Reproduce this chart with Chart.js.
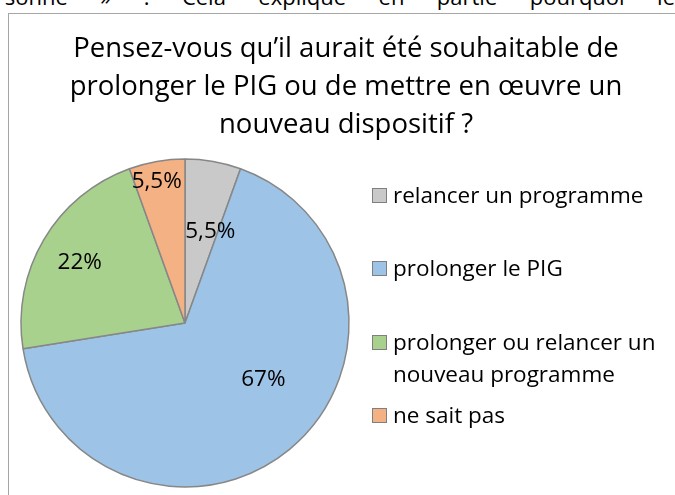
<!DOCTYPE html>
<html lang="fr">
<head>
<meta charset="utf-8">
<script src="https://cdn.jsdelivr.net/npm/chart.js@4.4.1/dist/chart.umd.min.js"></script>
<style>
  html, body { margin: 0; padding: 0; background: #fff; overflow: hidden; }
  body { width: 675px; height: 495px; position: relative; font-family: 'Open Sans', sans-serif; color: #000; }
  #prevText { position: absolute; left: -30px; top: -19px; width: 705px; font-size: 22px; line-height: 30px;
    text-align: justify; text-align-last: justify; white-space: nowrap; }
  #frame { position: absolute; left: 8px; top: 13px; width: 674px; height: 490px; border: 1px solid #a6a6a6; }
  #pie { position: absolute; left: 0; top: 0; }
  #title { position: absolute; left: 0; top: 14px; width: 674px; text-align: center; font-size: 27.5px;
    line-height: 38px; white-space: pre-line; }
  #legend { position: absolute; left: 363px; top: 0; width: 305px; }
  .lg-item { position: absolute; left: 0; font-size: 22.5px; line-height: 32px; padding-left: 21px; width: 284px; }
  .lg-box { position: absolute; left: 0; top: 9px; width: 13px; height: 13px; border: 1px solid #7f7f7f; }
</style>
</head>
<body>
<div id="prevText">personne » . Cela explique en partie pourquoi le</div>
<div id="frame">
  <canvas id="pie" width="674" height="481"></canvas>
  <div id="title"></div>
  <div id="legend"></div>
</div>
<script>
// Réponses (en %)
const titleLines = ['Pensez-vous qu’il aurait été souhaitable de', 'prolonger le PIG ou de mettre en œuvre un', 'nouveau dispositif ?'];
const categories = ['relancer un programme', 'prolonger le PIG', 'prolonger ou relancer un nouveau programme', 'ne sait pas'];
const shares = [5.5, 67, 22, 5.5];
const sliceColors = ['#c9c9c9', '#9dc3e6', '#a9d18e', '#f4b183'];

// where each percentage sits inside its slice (fraction of the slice angle, fraction of radius)
const labelAngleFrac = [0.78, 0.44, 0.49, 0.43];
const labelRadiusFrac = [0.58, 0.59, 0.74, 0.88];

// legend rows: first-line centre of the first row and spacing (px, inside the frame)
const legendTop = 181;
const legendStep = 73.3;

document.getElementById('title').textContent = titleLines.join('\n');

const legendEl = document.getElementById('legend');
categories.forEach((c, i) => {
    const item = document.createElement('div');
    item.className = 'lg-item';
    item.style.top = (legendTop + i * legendStep - 16) + 'px';
    item.innerHTML = `<span class="lg-box" style="background:${sliceColors[i]}"></span>${c}`;
    legendEl.appendChild(item);
});

const fmt = v => String(v).replace('.', ',') + '%';

const sliceLabels = {
    id: 'sliceLabels',
    afterDatasetsDraw(chart) {
        const g = chart.ctx;
        const meta = chart.getDatasetMeta(0);
        g.save();
        g.font = '22.5px "Open Sans"';
        g.fillStyle = '#000';
        g.textAlign = 'center';
        g.textBaseline = 'middle';
        meta.data.forEach((arc, i) => {
            const p = arc.getProps(['x', 'y', 'startAngle', 'endAngle', 'outerRadius'], true);
            const a = p.startAngle + (p.endAngle - p.startAngle) * labelAngleFrac[i];
            const r = p.outerRadius * labelRadiusFrac[i];
            g.fillText(fmt(shares[i]), p.x + Math.cos(a) * r, p.y + Math.sin(a) * r);
        });
        g.restore();
    }
};

new Chart(document.getElementById('pie'), {
    type: 'pie',
    data: {
        labels: categories,
        datasets: [{ data: shares, backgroundColor: sliceColors, borderColor: '#878787', borderWidth: 1.5 }]
    },
    options: {
        responsive: false,
        animation: false,
        radius: 164,
        layout: { padding: { left: 12, top: 145, right: 334, bottom: 8 } },
        plugins: { legend: { display: false }, title: { display: false }, tooltip: { enabled: false } }
    },
    plugins: [sliceLabels]
});
</script>
</body>
</html>
